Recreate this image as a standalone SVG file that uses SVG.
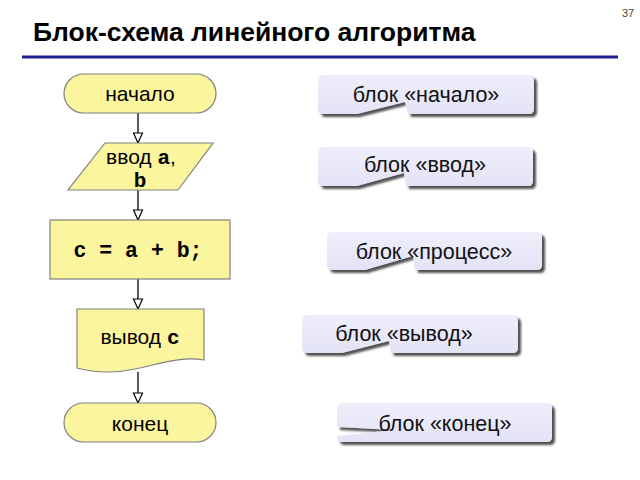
<svg xmlns="http://www.w3.org/2000/svg" width="640" height="480" viewBox="0 0 640 480">
<defs>
<style>
.node{fill:#FBF59D;stroke:#808080;stroke-width:1.2}
.t{font-family:"Liberation Sans",Arial,sans-serif;font-size:21px;fill:#000;text-anchor:middle}
.m{font-family:"Liberation Mono","Courier New",monospace;font-weight:bold}
.big{font-size:21.5px}
.call{fill:url(#cg);filter:url(#sh)}
.ct{font-family:"Liberation Sans",Arial,sans-serif;font-size:21.5px;fill:#111;text-anchor:middle}
.conn{stroke:#000;stroke-width:1.3;fill:none;marker-end:url(#ah)}
</style>
<linearGradient id="cg" x1="0" y1="0" x2="0" y2="1">
<stop offset="0" stop-color="#EEEEFB"/>
<stop offset="1" stop-color="#E3E3F6"/>
</linearGradient>
<filter id="sh" x="-10%" y="-20%" width="130%" height="160%">
<feDropShadow dx="3" dy="3" stdDeviation="1" flood-color="#333" flood-opacity="0.85"/>
</filter>
<marker id="ah" markerWidth="12" markerHeight="12" viewBox="0 0 12 12" refX="11" refY="6" orient="auto" markerUnits="userSpaceOnUse">
<path d="M1,1.5 L11,6 L1,10.5 Z" fill="#fff" stroke="#000" stroke-width="1.2"/>
</marker>
</defs>
<rect width="640" height="480" fill="#fff"/>
<text x="628" y="17" font-family="Liberation Sans,Arial,sans-serif" font-size="11" fill="#444" text-anchor="middle">37</text>
<text x="33" y="41" font-family="Liberation Sans,Arial,sans-serif" font-size="26.5" font-weight="bold" fill="#000">Блок-схема линейного алгоритма</text>
<line x1="22" y1="57" x2="618" y2="57" stroke="#1F1F8C" stroke-width="3"/>

<g id="connectors">
<line class="conn" x1="138" y1="113" x2="138" y2="143"/>
<line class="conn" x1="138" y1="190" x2="138" y2="220"/>
<line class="conn" x1="138" y1="279" x2="138" y2="309"/>
<line class="conn" x1="138" y1="372" x2="138" y2="403"/>
</g>

<g id="start">
<rect class="node" x="64" y="74" width="152" height="39" rx="19.5"/>
<text class="t" x="140" y="101">начало</text>
</g>
<g id="input">
<polygon class="node" points="105,143 213,143 178,190 68,190"/>
<text class="t" x="141" y="164">ввод <tspan class="m">a</tspan>,</text>
<text class="t m" x="140" y="187">b</text>
</g>
<g id="process">
<rect class="node" x="50" y="220" width="180" height="59"/>
<text class="t m big" x="138" y="257">c = a + b;</text>
</g>
<g id="output">
<path class="node" d="M77,309 H204 V360 C180,356 160,364 135,369 C112,374 92,372 77,368 Z"/>
<text class="t" x="140" y="344">вывод <tspan class="m">c</tspan></text>
</g>
<g id="end">
<rect class="node" x="64" y="403" width="152" height="39" rx="19.5"/>
<text class="t" x="140" y="431">конец</text>
</g>

<g id="callout-start">
<path class="call" d="M323,75 H529 Q534,75 534,80 V109 Q534,114 529,114 H408 L405,102 L357,114 H323 Q318,114 318,109 V80 Q318,75 323,75 Z"/>
<text class="ct" x="426" y="102">блок «начало»</text>
</g>
<g id="callout-input">
<path class="call" d="M323,147 H528 Q533,147 533,152 V181 Q533,186 528,186 H406 L404,173 L357,186 H323 Q318,186 318,181 V152 Q318,147 323,147 Z"/>
<text class="ct" x="425" y="172">блок «ввод»</text>
</g>
<g id="callout-process">
<path class="call" d="M332,232 H537 Q542,232 542,237 V265 Q542,270 537,270 H415 L413,256 L365,270 H332 Q327,270 327,265 V237 Q327,232 332,232 Z"/>
<text class="ct" x="434" y="259">блок «процесс»</text>
</g>
<g id="callout-output">
<path class="call" d="M307,315 H513 Q518,315 518,320 V348 Q518,353 513,353 H391 L389,341 L342,353 H307 Q302,353 302,348 V320 Q302,315 307,315 Z"/>
<text class="ct" x="404" y="341">блок «вывод»</text>
</g>
<g id="callout-end">
<path class="call" d="M342,403 H547 Q552,403 552,408 V437 Q552,442 547,442 H342 Q337,442 337,438 V436 L394,430 L337,427 V408 Q337,403 342,403 Z"/>
<text class="ct" x="445" y="431">блок «конец»</text>
</g>
</svg>
